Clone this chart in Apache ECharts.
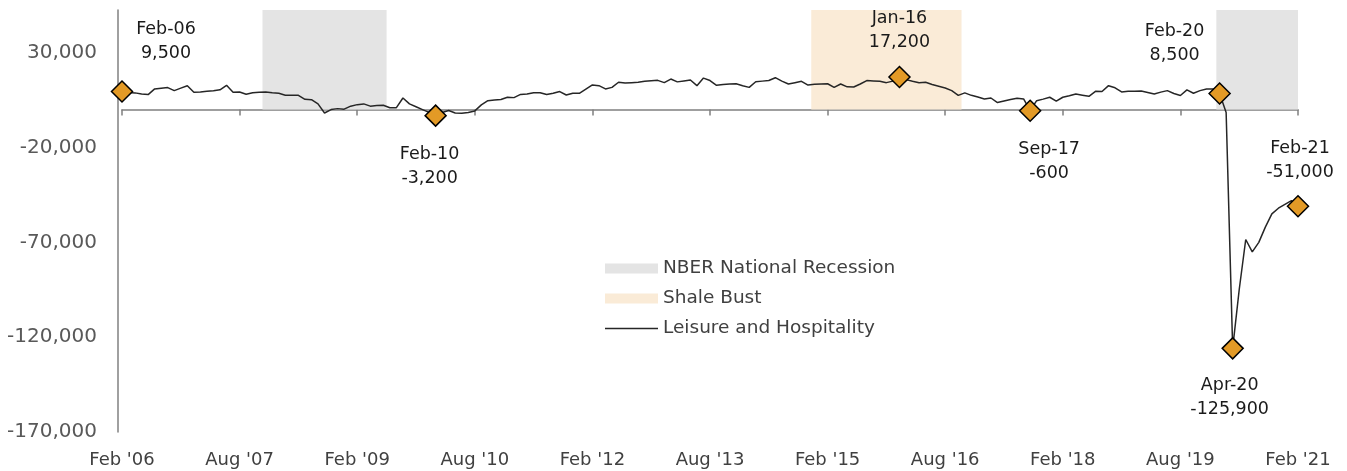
<!DOCTYPE html>
<html>
<head>
<meta charset="utf-8">
<script src="https://cdn.jsdelivr.net/npm/echarts@6/dist/echarts.min.js"></script>
<style>
  html, body { margin: 0; padding: 0; background: #fff; }
  #chart { width: 1347px; height: 471px; }
</style>
</head>
<body>
<div id="chart"></div>
<script>
// months Feb-06 .. Feb-21
const monthNames = ["Jan", "Feb", "Mar", "Apr", "May", "Jun", "Jul", "Aug", "Sep", "Oct", "Nov", "Dec"];
const months = [];
for (let i = 0; i < 181; i++) {
  const yr = 2006 + Math.floor((1 + i) / 12);
  months.push(monthNames[(1 + i) % 12] + "-" + String(yr).slice(2));
}

const tickLabels = ["Feb '06", "Aug '07", "Feb '09", "Aug '10", "Feb '12", "Aug '13",
  "Feb '15", "Aug '16", "Feb '18", "Aug '19", "Feb '21"];

// year over year change, jobs
const leisure = [
  9500, 9000, 8800, 8200, 7900, 10900, 11300, 11600, 10000, 11300, 12600, 9100,
  9300, 9600, 9900, 10400, 12800, 9100, 9300, 8100, 8900, 9100, 9300, 8900,
  8600, 7600, 7500, 7500, 5400, 5200, 3000, -1800, 0, 500, 200, 1800,
  2600, 3000, 1800, 2100, 2300, 1000, 1000, 6100, 3000, 1500, 0, -1500,
  -3200, -1500, -500, -1800, -2000, -1500, -700, 2500, 4700, 5000, 5300, 6500,
  6300, 8000, 8200, 8900, 8900, 7900, 8600, 9500, 7700, 8600, 8600, 10800,
  13000, 12600, 10900, 11700, 14400, 14000, 14200, 14400, 14900, 15200, 15400, 14200,
  16100, 14600, 15100, 15600, 12600, 16600, 15300, 12800, 13200, 13500, 13600, 12600,
  11700, 14700, 15000, 15300, 16800, 15000, 13500, 14200, 14900, 12900, 13300, 13500,
  13600, 11700, 13500, 12000, 11900, 13500, 15300, 15100, 14900, 14200, 15000, 17200,
  15800, 14900, 14200, 14400, 13200, 12300, 11400, 10000, 7500, 8800, 7500, 6600,
  5600, 6100, 3700, 4500, 5300, 6000, 5600, -600, 4700, 5500, 6500, 4400,
  6500, 7300, 8200, 7600, 7000, 9600, 9500, 12600, 11500, 9300, 9600, 9700,
  9800, 9000, 8200, 9200, 10000, 8500, 7400, 10400, 8600, 10000, 10800, 10900,
  8500, -1500, -125900, -95000, -68500, -75000, -70000, -62000, -55000, -52000, -50000, -48000,
  -51000
];

const markerMonths = ["Feb-06", "Feb-10", "Jan-16", "Sep-17", "Feb-20", "Apr-20", "Feb-21"];
const nberPeriods = [["Dec-07", "Jun-09"], ["Feb-20", "Feb-21"]];
const shalePeriods = [["Dec-14", "Oct-16"]];

const Y_MIN = -170000;
const Y_MAX = 52500;
const FONT = "DejaVu Sans";

// label offsets (dx, dy) from the diamond centre
const labelOffsets = [[44, -50], [-6, 51], [0, -46], [19, 51], [-45, -50], [-3, 49], [2, -46]];

// shaded month columns, each month spans +-half a step (like a column chart)
function shade(periods) {
  return periods.map((p) => [
    { xAxis: months.indexOf(p[0]) - 0.5, yAxis: 0 },
    { xAxis: months.indexOf(p[1]) + 0.5, yAxis: Y_MAX },
  ]);
}

const fmt = (v) => v.toLocaleString("en-US");

const chart = echarts.init(document.getElementById("chart"));
chart.setOption({
  animation: false,
  grid: { left: 122, right: 49, top: 10, bottom: 39 },
  legend: {
    orient: "vertical",
    left: 600,
    top: 254,
    itemWidth: 53,
    itemHeight: 10,
    itemGap: 11,
    selectedMode: false,
    textStyle: { fontFamily: FONT, fontSize: 18.5, color: "#404040" },
    data: [
      { name: "NBER National Recession", icon: "rect" },
      { name: "Shale Bust", icon: "rect" },
      { name: "Leisure and Hospitality", icon: "path://M0,0H53V1.5H0Z" },
    ],
  },
  xAxis: [
    {
      type: "category",
      data: months,
      boundaryGap: false,
      position: "bottom",
      axisLine: { show: false, onZero: false },
      axisTick: { show: false },
      splitLine: { show: false },
      axisLabel: {
        interval: 17,
        margin: 19,
        fontFamily: FONT,
        fontSize: 18,
        color: "#404040",
        formatter: (v, i) => tickLabels[i / 18],
      },
    },
    {
      type: "category",
      data: months,
      boundaryGap: false,
      position: "bottom",
      axisLine: { show: true, onZero: true, lineStyle: { color: "#808080", width: 1.5 } },
      axisTick: { show: true, interval: 17, length: 6, lineStyle: { color: "#808080", width: 1.5 } },
      axisLabel: { show: false },
      splitLine: { show: false },
    },
    {
      // month index axis for the shaded columns
      type: "value",
      min: 0,
      max: months.length - 1,
      show: false,
    },
  ],
  yAxis: {
    type: "value",
    min: Y_MIN,
    max: Y_MAX,
    interval: 50000,
    offset: 4,
    axisLine: { show: true, onZero: false, lineStyle: { color: "#808080", width: 1.5 } },
    axisTick: { show: false },
    splitLine: { show: false },
    axisLabel: {
      showMaxLabel: false,
      margin: 21,
      fontFamily: FONT,
      fontSize: 20,
      color: "#595959",
      formatter: fmt,
    },
  },
  series: [
    {
      name: "NBER National Recession",
      type: "line",
      xAxisIndex: 2,
      data: [],
      clip: false,
      silent: true,
      itemStyle: { color: "#e4e4e4" },
      lineStyle: { color: "#e4e4e4" },
      markArea: {
        silent: true,
        itemStyle: { color: "#e4e4e4" },
        data: shade(nberPeriods),
      },
      z: 1,
    },
    {
      name: "Shale Bust",
      type: "line",
      xAxisIndex: 2,
      data: [],
      clip: false,
      silent: true,
      itemStyle: { color: "#faebd7" },
      lineStyle: { color: "#faebd7" },
      markArea: {
        silent: true,
        itemStyle: { color: "#faebd7" },
        data: shade(shalePeriods),
      },
      z: 1,
    },
    {
      name: "Leisure and Hospitality",
      type: "line",
      data: leisure,
      symbol: "none",
      lineStyle: { color: "#262626", width: 1.5 },
      itemStyle: { color: "#262626" },
      z: 3,
    },
    {
      name: "markers",
      type: "scatter",
      symbol: "diamond",
      symbolSize: 21,
      itemStyle: { color: "#e39a26", borderColor: "#000", borderWidth: 1.5, opacity: 1 },
      z: 4,
      label: {
        show: true,
        position: "inside",
        fontFamily: FONT,
        fontSize: 17.5,
        lineHeight: 24,
        color: "#1a1a1a",
        formatter: (p) => p.value[0] + "\n" + fmt(p.value[1]),
      },
      data: markerMonths.map((m, k) => ({
        value: [m, leisure[months.indexOf(m)]],
        label: { offset: labelOffsets[k] },
      })),
    },
  ],
});
</script>
</body>
</html>
